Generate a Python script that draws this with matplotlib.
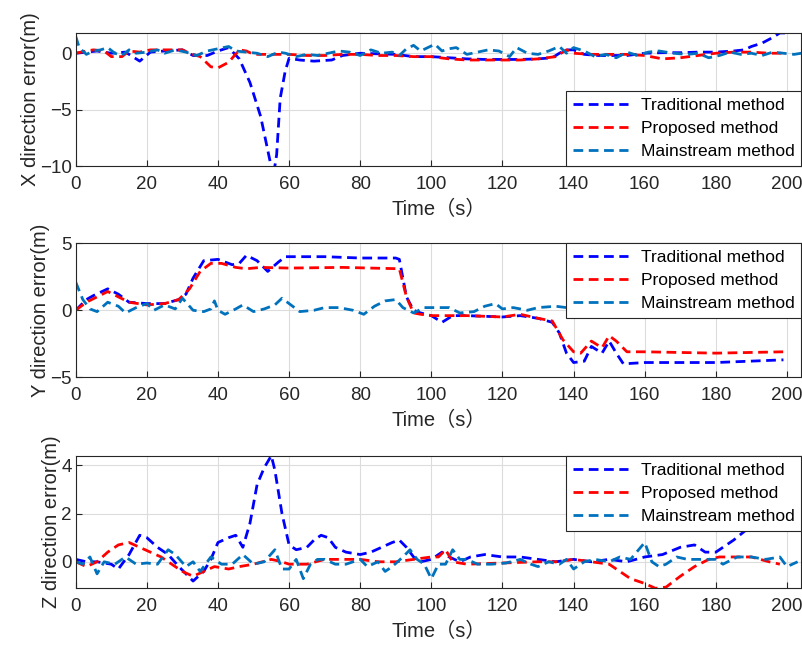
import numpy as np
import matplotlib
matplotlib.use('Agg')
import matplotlib.pyplot as plt

plt.rcParams['font.family'] = ['Liberation Sans', 'Noto Sans CJK SC', 'DejaVu Sans']
plt.rcParams['axes.unicode_minus'] = True

# ---- X direction ----
t_trad_x = [0, 3, 6, 10, 14, 18, 21, 25, 30, 33, 37, 40, 43, 46, 49, 52, 54.6, 55.5, 56.5, 57.5, 58.9, 60,
            63, 67, 72, 75, 80, 85, 90, 95, 100, 105, 110, 115, 120, 125, 130, 134, 136, 138, 140, 143, 147,
            150, 155, 160, 165, 170, 175, 180, 185, 188, 190, 193, 196, 198, 200]
trad_x = [0, 0.1, 0.2, 0, 0.1, -0.7, 0.1, 0.2, 0.3, -0.2, -0.2, 0.2, 0.5, -0.5, -2.6, -5.6, -9.5, -11, -9, -4, -1.6, -0.45,
          -0.6, -0.7, -0.6, -0.2, 0, -0.05, -0.1, -0.3, -0.3, -0.4, -0.5, -0.55, -0.55, -0.55, -0.5, -0.4, 0, 0.3, 0.3, -0.1, -0.2,
          -0.2, -0.2, 0, 0.05, 0.05, 0.1, 0.1, 0.2, 0.3, 0.6, 0.9, 1.4, 1.8, 1.8]

t_prop_x = [0, 3, 5, 8, 10, 13, 15, 18, 21, 25, 30, 32, 35, 38, 40, 43, 46, 48, 50, 55, 60, 65, 70, 75, 80,
            85, 90, 95, 100, 105, 110, 115, 120, 125, 130, 135, 138, 140, 145, 150, 155, 160, 165, 170, 175,
            180, 185, 190, 195, 200]
prop_x = [0, 0.2, 0.3, 0.2, -0.3, -0.3, 0.2, 0.1, 0.3, 0.3, 0.3, 0, -0.3, -1.2, -1.3, -0.8, 0.3, 0.2, -0.1, -0.1, -0.1, -0.2, -0.2, -0.1, -0.1,
          -0.2, -0.2, -0.3, -0.3, -0.5, -0.6, -0.6, -0.6, -0.6, -0.5, -0.3, 0.3, 0, -0.1, -0.1, -0.1, -0.2, -0.5, -0.4, -0.2,
          0, 0.1, 0.1, 0, 0]

t_main_x = [0, 1, 3, 5, 7, 9, 11, 13, 15, 17, 20, 23, 25, 28, 31, 34, 37, 40, 43, 45, 48, 51, 54, 57, 59, 62,
            65, 68, 71, 74, 77, 80, 83, 86, 89, 91, 93, 95, 97, 99, 101, 103, 105, 107, 110, 113, 116, 119, 122,
            124, 127, 130, 133, 136, 138, 140, 143, 146, 149, 152, 155, 158, 161, 164, 168, 172, 175, 178, 181,
            184, 187, 190, 193, 196, 199, 202, 204]
main_x = [1.5, 0.5, -0.1, 0.2, 0.3, 0.5, 0, -0.2, 0.3, 0, 0.1, 0.3, 0, 0.3, 0.1, -0.2, 0.2, 0.4, 0.6, 0.2, 0.1, 0, -0.3, 0.1, 0, -0.3,
          -0.1, -0.2, 0, 0.2, 0.1, -0.2, 0.3, 0, 0.1, -0.2, 0.4, 0.7, 0.2, 0.5, 0.8, 0.2, 0.4, 0.5, -0.1, 0.1, 0.3, 0.2, -0.3,
          0.5, 0, -0.1, 0.2, 0.6, 0, 0.5, 0.2, -0.3, -0.1, -0.4, 0.1, -0.2, 0.1, 0.2, 0, -0.1, 0, -0.4, -0.2,
          0.1, -0.1, 0, -0.2, 0.1, 0, -0.1, 0]

# ---- Y direction ----
t_trad_y = [0, 3, 5, 9, 12, 15, 20, 25, 29, 31, 33, 36, 40, 44, 46, 48, 51, 54, 57, 59, 70, 80, 90, 91, 93, 95,
            97, 100, 103, 106, 110, 120, 125, 130, 134, 136, 138, 140, 143, 145, 148, 150, 152, 154, 160, 180, 199]
trad_y = [0, 0.8, 1.1, 1.6, 1.2, 0.6, 0.5, 0.5, 0.8, 1.2, 2.4, 3.7, 3.8, 3.4, 3.5, 4.1, 3.7, 2.9, 3.6, 4.0, 4.0, 3.9, 3.9, 3.8, 1.0, 0,
          -0.2, -0.4, -0.9, -0.4, -0.4, -0.5, -0.4, -0.6, -0.9, -1.7, -3.2, -3.9, -3.8, -2.7, -3.2, -2.3, -3.2, -4.0, -3.9, -3.9, -3.7]

t_prop_y = [0, 3, 6, 9, 12, 15, 20, 25, 29, 32, 35, 38, 41, 45, 48, 52, 60, 75, 91, 93, 95, 97, 100, 105, 110,
            120, 125, 130, 134, 137, 140, 142, 145, 148, 150, 152, 155, 160, 180, 199]
prop_y = [0, 0.6, 1.0, 1.4, 1.0, 0.6, 0.4, 0.5, 0.8, 1.6, 2.9, 3.5, 3.5, 3.2, 3.1, 3.2, 3.15, 3.2, 3.1, 1.0, -0.2, -0.3, -0.4, -0.4, -0.4,
          -0.5, -0.3, -0.6, -0.8, -2.2, -3.1, -3.2, -2.3, -2.8, -1.9, -2.3, -3.1, -3.1, -3.2, -3.1]

t_main_y = [0, 2, 4, 6, 9, 12, 14, 17, 20, 22, 25, 28, 30, 33, 36, 38, 39, 40, 42, 45, 47, 50, 53, 56, 58, 61,
            63, 67, 70, 74, 78, 81, 84, 87, 90, 92, 95, 98, 102, 105, 108, 112, 115, 118, 120, 123, 127, 130,
            135, 138, 140, 145, 150, 160, 170, 180, 190, 200]
main_y = [2.1, 0.8, 0.1, -0.1, 0.6, 0.3, -0.2, 0.2, 0.5, 0, 0.4, 0.1, 0.9, 0, -0.1, 0.1, 0.7, 0, -0.3, 0.1, 0.4, -0.1, 0.1, 0.4, 0.9, 0.3,
          -0.1, 0, 0.2, 0.2, 0, -0.3, 0.3, 0.7, 0.8, 0.2, -0.2, 0.2, 0.2, 0.2, -0.2, -0.1, 0.3, 0.5, 0.1, 0.2, 0, 0.2,
          0.3, 0.2, 0.3, 0.1, 0.2, 0.1, 0.2, 0.1, 0.2, 0.1]

# ---- Z direction ----
t_trad_z = [0, 3, 6, 10, 12, 15, 18, 20, 23, 26, 29, 31, 33, 36, 38, 40, 43, 45, 47, 49, 51, 53, 55, 56, 58, 60,
            62, 65, 67, 69, 71, 73, 76, 80, 83, 86, 89, 91, 93, 95, 97, 100, 103, 105, 108, 111, 115, 120, 125,
            130, 135, 140, 145, 150, 155, 160, 165, 170, 174, 177, 180, 185, 190, 195, 200]
trad_z = [0.1, 0, 0, -0.1, -0.3, 0.3, 1.1, 1.0, 0.6, 0.3, -0.2, -0.5, -0.8, -0.4, 0.1, 0.8, 1.0, 1.1, 0.6, 1.6, 3.2, 3.9, 4.4, 3.8, 2.0, 0.7,
          0.5, 0.6, 0.9, 1.1, 1.0, 0.6, 0.4, 0.3, 0.4, 0.6, 0.8, 0.9, 0.6, 0.2, 0, 0.1, 0.4, 0.2, 0, 0.2, 0.3, 0.2, 0.2,
          0.1, 0, 0.1, 0, 0.1, 0, 0.2, 0.3, 0.6, 0.7, 0.4, 0.4, 0.9, 1.5, 2.0, 2.2]

t_prop_z = [0, 3, 6, 9, 12, 15, 18, 21, 24, 27, 30, 33, 36, 39, 43, 46, 50, 55, 58, 60, 65, 70, 75, 80, 85, 90,
            95, 100, 102, 104, 106, 110, 120, 130, 135, 140, 145, 150, 153, 156, 160, 163, 166, 170, 174, 178,
            181, 185, 190, 195, 198]
prop_z = [0, -0.2, 0, 0.4, 0.7, 0.8, 0.6, 0.4, 0.2, -0.1, -0.4, -0.6, -0.4, -0.2, -0.3, -0.2, -0.1, 0.1, 0, -0.1, -0.1, 0.1, 0.1, 0.1, 0, 0,
          0.1, 0.2, 0.2, 0.5, 0, -0.1, -0.05, 0, 0, 0.1, 0, -0.1, -0.4, -0.7, -0.9, -1.1, -1.05, -0.6, -0.2, 0.1,
          0.2, 0.2, 0.2, 0, -0.1]

t_main_z = [0, 2, 4, 6, 8, 11, 14, 17, 20, 23, 26, 28, 31, 33, 35, 38, 41, 44, 47, 50, 53, 56, 58, 60, 62, 64,
            66, 68, 70, 73, 76, 80, 82, 85, 87, 89, 92, 94, 96, 98, 100, 102, 104, 106, 108, 110, 113, 117, 121,
            125, 128, 130, 133, 136, 138, 140, 143, 146, 150, 153, 156, 160, 162, 164, 166, 169, 172, 176, 180,
            182, 186, 190, 194, 198, 200, 203]
main_z = [0, -0.1, 0.2, -0.5, 0, -0.1, 0.2, -0.1, -0.05, -0.1, 0.5, 0.3, -0.2, 0, -0.4, 0.2, -0.1, -0.1, 0.3, -0.1, 0, 0.5, -0.3, -0.3, 0.1, -0.7,
          -0.1, 0.1, 0.1, -0.1, -0.1, 0.1, -0.2, 0, -0.4, -0.2, 0.2, 0.5, 0.1, -0.1, -0.7, -0.1, -0.1, 0.5, 0.1, 0.1, -0.1, -0.1, -0.05,
          0.1, -0.1, -0.2, 0, -0.1, 0.1, -0.3, 0, 0.1, 0, 0.2, 0.1, 0.8, 0, -0.2, -0.1, 0.2, 0.1, 0.1, 0.1,
          -0.1, 0.2, 0.2, 0.1, 0.2, -0.2, 0]

labels = ['Traditional method', 'Proposed method', 'Mainstream method']
colors = ['#0000ff', '#ff0000', '#0072bd']

panels = [
    ('X direction error(m)', [(t_trad_x, trad_x), (t_prop_x, prop_x), (t_main_x, main_x)],
     (-10, 1.8), [-10, -5, 0], 'lower right'),
    ('Y direction error(m)', [(t_trad_y, trad_y), (t_prop_y, prop_y), (t_main_y, main_y)],
     (-5, 5), [-5, 0, 5], 'upper right'),
    ('Z direction error(m)', [(t_trad_z, trad_z), (t_prop_z, prop_z), (t_main_z, main_z)],
     (-1.1, 4.4), [0, 2, 4], 'upper right'),
]

fig = plt.figure(figsize=(8.02, 6.46), dpi=100)
boxes = [[0.0944, 0.743, 0.9046, 0.206],
         [0.0944, 0.416, 0.9046, 0.2074],
         [0.0944, 0.0893, 0.9046, 0.2053]]

for box, (ylab, series, ylim, yticks, loc) in zip(boxes, panels):
    ax = fig.add_axes(box)
    for (t, v), c, lab in zip(series, colors, labels):
        ax.plot(t, v, color=c, lw=2.0, dashes=(3.5, 2.0), label=lab)
    ax.set_xlim(0, 204)
    ax.set_ylim(*ylim)
    ax.set_xticks(np.arange(0, 201, 20))
    ax.set_yticks(yticks)
    ax.grid(True, color='#dcdcdc', lw=0.8)
    ax.set_axisbelow(True)
    ax.tick_params(direction='in', length=4, labelsize=13.5, colors='#262626')
    ax.tick_params(axis='x', pad=7)
    ax.tick_params(axis='y', pad=3)
    for s in ax.spines.values():
        s.set_color('#262626')
        s.set_linewidth(0.8)
    ax.set_ylabel(ylab, fontsize=14.5, color='#262626', labelpad=0)
    ax.set_xlabel('Time（s）', fontsize=14.5, color='#262626', labelpad=5)
    leg = ax.legend(loc=loc, fontsize=12.5, fancybox=False, framealpha=1, edgecolor='#262626',
                    borderaxespad=0, handlelength=3.2, borderpad=0.4, labelspacing=0.45,
                    handletextpad=0.7)
    leg.get_frame().set_linewidth(0.8)

fig.savefig('out.png', dpi=100)
